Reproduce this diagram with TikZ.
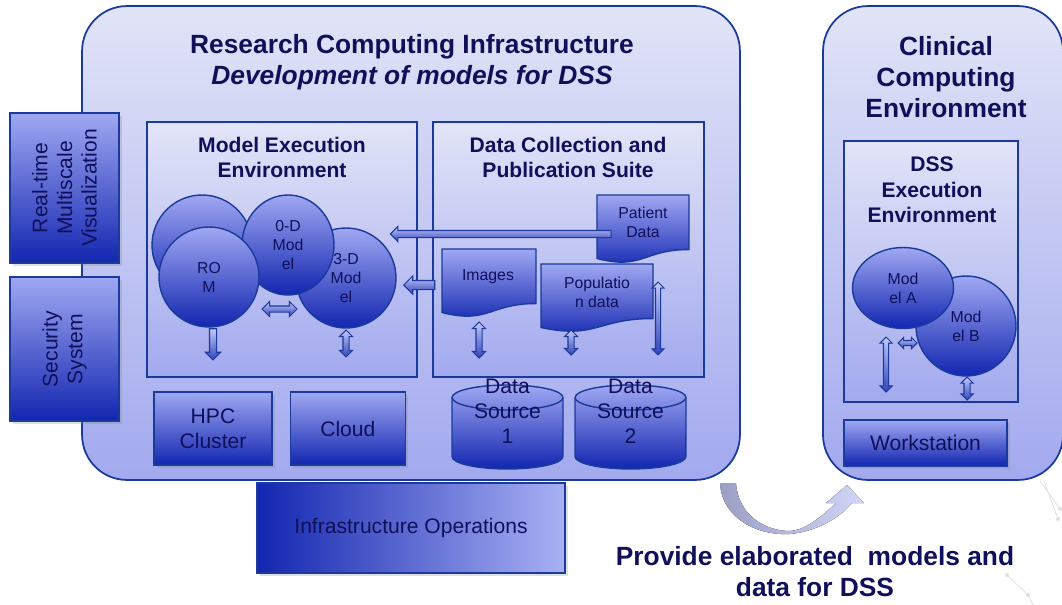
\documentclass[tikz,border=0pt]{standalone}
\usepackage{fontspec}
\setmainfont{Liberation Sans}
\usetikzlibrary{shapes.geometric,shapes.arrows,shadows,positioning}

\definecolor{navy}{HTML}{10105A}
\definecolor{edge}{HTML}{1A3A9C}
\definecolor{paleA}{HTML}{E2E4F7}
\definecolor{paleB}{HTML}{A2A9EE}
\definecolor{blueA}{HTML}{A0A8F2}
\definecolor{blueB}{HTML}{1226B0}
\definecolor{tipA}{HTML}{C4C9F7}
\definecolor{tipB}{HTML}{3344BB}
\definecolor{bendA}{HTML}{9AA0C4}
\definecolor{bendB}{HTML}{D2D6F8}

% sheet with a wavy lower edge: left, top, width, height
\newcommand{\docsheet}[4]{%
  \draw[sheet] (#1,#2) -- ({#1+#3},#2) -- ({#1+#3},{#2+0.802*#4})
    .. controls ({#1+0.5*#3},{#2+0.802*#4}) and ({#1+0.5*#3},{#2+1.107*#4}) .. (#1,{#2+0.934*#4}) -- cycle;}
% data store: centre x, top, width, height
\newcommand{\drum}[4]{%
  \draw[sheet] ({#1-#3/2},{#2+12.5}) -- ({#1-#3/2},{#2+#4-12.5})
    arc[start angle=180,end angle=360,x radius=#3*0.01cm,y radius=0.25cm] -- ({#1+#3/2},{#2+12.5})
    arc[start angle=0,end angle=180,x radius=#3*0.01cm,y radius=0.25cm] -- cycle;
  \draw[edge,line width=0.8pt] ({#1-#3/2},{#2+12.5}) arc[start angle=180,end angle=360,x radius=#3*0.01cm,y radius=0.25cm];}

\begin{document}
\begin{tikzpicture}[x=0.02cm,y=-0.02cm,text=navy,
    panel/.style={draw=edge,line width=1pt,top color=paleA,bottom color=paleB,rounded corners=0.9cm},
    frame/.style={draw=edge,line width=0.9pt,top color=paleA,bottom color=paleB},
    block/.style={draw=edge,line width=0.8pt,top color=blueA,bottom color=blueB,align=center,inner sep=0pt,
        font=\fontsize{12}{14}\selectfont,drop shadow={opacity=0.25,shadow xshift=1.5pt,shadow yshift=-1.5pt}},
    uptext/.style={rotate=90,align=center,font=\fontsize{12}{14}\selectfont},
    ball/.style={circle,draw=edge,line width=0.8pt,top color=blueA,bottom color=blueB,align=center,inner sep=0pt,
        font=\fontsize{9}{10.8}\selectfont},
    sheet/.style={draw=edge,line width=0.8pt,top color=blueA,bottom color=blueB},
    cyltext/.style={align=center,font=\fontsize{12}{14.2}\selectfont},
    sgl/.style={single arrow,draw=edge,line width=0.6pt,top color=tipA,bottom color=tipB,inner sep=0pt},
    dbl/.style={double arrow,draw=edge,line width=0.6pt,top color=tipA,bottom color=tipB,inner sep=0pt},
    head/.style={font=\bfseries\fontsize{15}{17.6}\selectfont,align=center},
    subhead/.style={font=\bfseries\fontsize{12}{14.4}\selectfont,align=center},
    note/.style={font=\fontsize{9}{10.8}\selectfont,align=center}]

    \useasboundingbox (0,0) rectangle (1062,605);

    % faint background strokes
    \draw[gray!25,line width=0.4pt] (1040,481) -- (1060,509) (1044,481) -- (1058,519)
        (1007,575) -- (1028,595) -- (1033,605);
    \foreach \p in {(1060,509),(1058,519),(1007,575),(1028,595)}
        \fill[gray!25] \p circle (2);

    % the two environments
    \node[panel,minimum width=13.16cm,minimum height=9.48cm] (RCI) at (411,243) {};
    \node[panel,minimum width=4.8cm,minimum height=9.48cm] (CCE) at (943,243) {};
    \node[head] (RCIt) at (412,62) {Research Computing Infrastructure\\\textit{Development of models for DSS}};
    \node[head] (CCEt) at (946,77) {Clinical\\Computing\\Environment};

    % side services
    \node[block,minimum width=2.18cm,minimum height=3cm] (VIS) at (64.5,188) {};
    \node[block,minimum width=2.18cm,minimum height=2.88cm] (SEC) at (64.5,349) {};
    \node[uptext] (VISt) at (VIS) {Real-time\\Multiscale\\Visualization};
    \node[uptext] (SECt) at (SEC) {Security\\System};

    % inner frames
    \node[frame,minimum width=5.4cm,minimum height=5.1cm] (MEE) at (282,249.5) {};
    \node[frame,minimum width=5.42cm,minimum height=5.1cm] (DCS) at (568.5,249.5) {};
    \node[frame,minimum width=3.48cm,minimum height=5.22cm] (DSS) at (931,271.5) {};
    \node[subhead] (MEEt) at (282,157.5) {Model Execution\\Environment};
    \node[subhead] (DCSt) at (568,157.5) {Data Collection and\\Publication Suite};
    \node[subhead] (DSSt) at (932,190) {DSS\\Execution\\Environment};

    % models
    \node[ball,minimum size=2cm] (BK) at (202,245) {};
    \node[ball,minimum size=2cm] (TD) at (346,278) {3-D\\Mod\\el};
    \node[ball,ellipse,minimum width=1.84cm,minimum height=2cm] (ZD) at (288,245) {0-D\\Mod\\el};
    \node[ball,minimum size=2cm] (ROM) at (209,277) {RO\\M};
    \node[ball,minimum size=2cm] (MB) at (966,326) {Mod\\el B};
    \node[ball,ellipse,minimum width=2.02cm,minimum height=1.62cm] (MA) at (903,288) {Mod\\el A};

    % data sheets
    \docsheet{597}{195}{92}{68}
    \docsheet{442}{249}{94}{68}
    \docsheet{541}{264}{112}{68}
    \node[note] (PAT) at (643,222.5) {Patient\\Data};
    \node[note] (IMG) at (488,277) {Images};
    \node[note] (POP) at (597,292.5) {Populatio\\n data};

    % hardware
    \node[block,minimum width=2.36cm,minimum height=1.46cm] (HPC) at (213,428.5) {HPC\\Cluster};
    \node[block,minimum width=2.3cm,minimum height=1.46cm,right=0.34cm of HPC] (CLD) {Cloud};
    \drum{507.5}{385}{111}{84}
    \drum{630.5}{385}{111}{84}
    \node[cyltext] (DS1) at (507.5,411) {Data\\Source\\1};
    \node[cyltext] (DS2) at (630.5,411) {Data\\Source\\2};
    \node[block,minimum width=3.26cm,minimum height=0.92cm] (WS) at (925.5,443) {Workstation};
    \node[block,left color=blueB,right color=blueA!90!white,minimum width=6.16cm,minimum height=1.8cm] (OPS) at (411,528) {Infrastructure Operations};

    % data flows
    \node[sgl,rotate=180,minimum height=4.42cm,inner ysep=0.06cm,single arrow head extend=0.08cm] (F1) at (502.5,234) {};
    \node[sgl,rotate=180,minimum height=0.62cm,inner ysep=0.08cm,single arrow head extend=0.09cm] (F2) at (421.5,285) {};
    \node[sgl,rotate=-90,minimum height=0.62cm,inner ysep=0.06cm,single arrow head extend=0.08cm] (F3) at (213,342.5) {};
    \node[dbl,minimum height=0.7cm,inner ysep=0.05cm,double arrow head extend=0.09cm] (F4) at (279.5,309) {};
    \node[dbl,rotate=90,minimum height=0.54cm,inner ysep=0.05cm,double arrow head extend=0.07cm] (F5) at (346,343.5) {};
    \node[dbl,rotate=90,minimum height=0.72cm,inner ysep=0.05cm,double arrow head extend=0.07cm] (F6) at (479,340) {};
    \node[dbl,rotate=90,minimum height=0.5cm,inner ysep=0.05cm,double arrow head extend=0.07cm] (F7) at (571,342.5) {};
    \node[dbl,rotate=90,minimum height=1.46cm,inner ysep=0.04cm,double arrow head extend=0.07cm] (F8) at (658,318.5) {};
    \node[dbl,rotate=90,minimum height=1.1cm,inner ysep=0.04cm,double arrow head extend=0.07cm] (F9) at (886,364.5) {};
    \node[dbl,minimum height=0.38cm,inner ysep=0.04cm,double arrow head extend=0.06cm] (F10) at (907.5,343) {};
    \node[dbl,rotate=90,minimum height=0.46cm,inner ysep=0.05cm,double arrow head extend=0.06cm] (F11) at (967,388.5) {};

    % hand-over to the clinic
    \fill[left color=bendA,right color=bendB] (720,483) .. controls (722,520) and (760,536) .. (790,534)
        .. controls (815,532) and (840,518) .. (852,503) -- (864,503) -- (847,485) -- (826,503) -- (836,503)
        .. controls (820,518) and (805,530) .. (790,531) .. controls (765,531) and (738,515) .. (736,483) -- cycle;
    \node[head] (PRV) at (815,572) {Provide elaborated\ \ models and\\data for DSS};

\end{tikzpicture}
\end{document}
